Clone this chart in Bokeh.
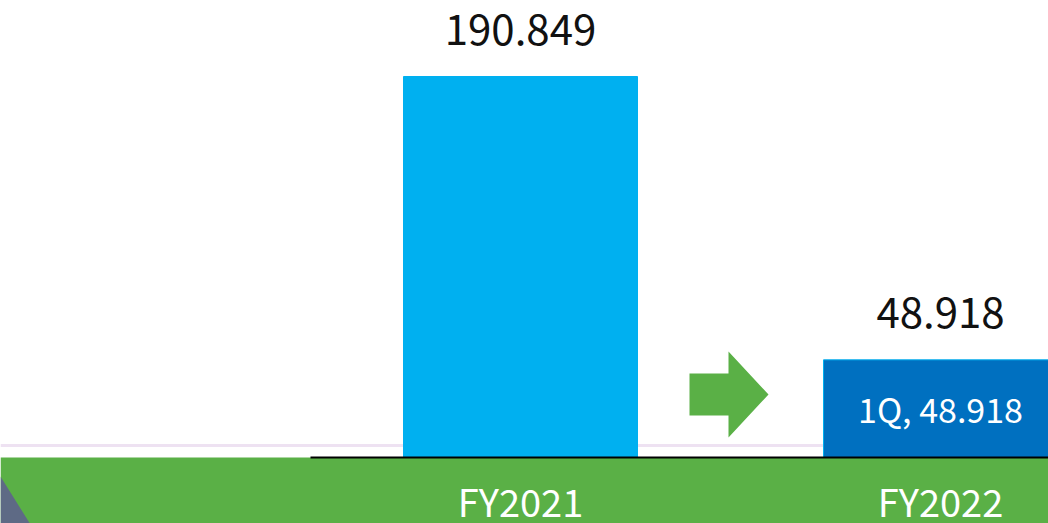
from bokeh.plotting import figure
from bokeh.models import Range1d, LinearAxis, FixedTicker, BoxAnnotation, Span, ColumnDataSource
from bokeh.core.properties import value
from bokeh.embed import file_html
from bokeh.resources import INLINE

# ---- data ----
categories = ["FY2021", "FY2022"]
values = [190.849, 48.918]
value_labels = ["190.849", "48.918"]
inner_labels = ["", "1Q, 48.918"]
bar_colors = ["#00B0F0", "#0070C0"]
bar_lines = ["#00B0F0", "#00B0F0"]

FONT = "Noto Sans CJK JP"

# screen-pixel helpers for decorative shapes (reference layout)
X0, XS = 520.0, 420.0
Y0, YS = 457.0, 381.0 / 190.849
def dx(px):
    return (px - X0) / XS
def dy(py):
    return (Y0 - py) / YS

xs = list(range(len(categories)))

p = figure(width=1048, height=523,
           x_range=Range1d(dx(0), dx(1048)), y_range=Range1d(dy(523), dy(0)),
           output_backend="svg", toolbar_location=None,
           x_axis_location=None, y_axis_location=None,
           min_border=0, outline_line_color=None,
           background_fill_color="white", border_fill_color="white")

# green band
p.add_layout(BoxAnnotation(top=0, fill_color="#5AB046", fill_alpha=1.0,
                           line_color=None, level="underlay"))
# faint decorative line
p.add_layout(Span(location=dy(445), dimension="width", line_color="#EEE2F2",
                  line_width=3, level="underlay"))
# gray corner triangle
p.patch([dx(0), dx(0), dx(40)], [dy(476), dy(540), dy(540)],
        fill_color="#5E6A85", line_color=None)

src = ColumnDataSource(dict(x=xs, top=values, lab=value_labels, inner=inner_labels,
                            color=bar_colors, lc=bar_lines))
p.vbar(x="x", top="top", bottom=0, width=234 / 420, fill_color="color",
       line_color="lc", line_width=1, source=src)

p.text(x="x", y="top", text="lab", source=src, text_align="center",
       text_baseline="middle", y_offset=-47, text_font=value(FONT),
       text_font_size="42px", text_color="#111111")
p.text(x="x", y="top", text="inner", source=src, text_align="center",
       text_baseline="middle", y_offset=49, text_font=value(FONT),
       text_font_size="34px", text_color="white")

# green arrow
arrow_px = [(689, 373), (728, 373), (728, 351), (768, 394), (728, 437), (728, 415), (689, 415)]
p.patch([dx(a) for a, b in arrow_px], [dy(b) for a, b in arrow_px],
        fill_color="#5AB046", line_color=None)

ax = LinearAxis(fixed_location=0, ticker=FixedTicker(ticks=xs),
                major_label_overrides={i: c for i, c in zip(xs, categories)},
                axis_line_color="black", axis_line_width=2,
                major_tick_line_color=None, minor_tick_line_color=None,
                major_label_text_color="white", major_label_text_font=FONT,
                major_label_text_font_size="38px", major_label_standoff=9,
                bounds=(-0.5, 3))
p.add_layout(ax, "below")

p.xgrid.visible = False
p.ygrid.visible = False

open("out.html", "w").write(file_html(p, INLINE))
